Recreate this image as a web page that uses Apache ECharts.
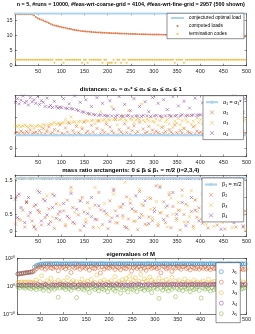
<!DOCTYPE html>
<html><head><meta charset="utf-8">
<script src="https://cdn.jsdelivr.net/npm/echarts@6/dist/echarts.min.js"></script>
<style>html,body{margin:0;padding:0;background:#fff}#c{width:255px;height:334px}</style>
</head><body><div id="c"></div><script>
// ---------- data ----------
const runIdx = Array.from({length:125},(_,i)=>1+4*i); // run index of each shown sample
const xLim = [0,500];
const xTickLabels = [50,100,150,200,250,300,350,400,450,500];
const optimalLoad = 17.2;
const computedLoads = [17.0,17.0,17.0,17.0,16.98,16.98,16.97,16.97,16.96,16.9,
16.6,16.1,15.7,15.4,15.2,14.9,14.6,14.4,14.1,13.8,13.5,13.3,13.2,13.0,12.9,
12.7,12.6,12.5,12.3,12.2,12.1,11.9,11.8,11.7,11.6,11.5,11.4,11.35,11.3,11.25,11.2,11.15,11.1,11.05,11.0,11.0,10.95,10.9,10.9,10.85,
10.8,10.8,10.75,10.75,10.7,10.7,10.65,10.65,10.6,10.6,10.55,10.52,10.5,10.48,10.46,10.45,10.43,10.42,10.4,10.38,10.37,10.35,10.34,10.33,10.31,
10.3,10.29,10.28,10.27,10.26,10.25,10.24,10.22,10.21,10.2,10.19,10.18,10.17,10.16,10.15,10.14,10.13,10.12,10.11,10.1,10.09,10.08,10.06,10.05,10.03,
10.02,10.0,9.99,9.98,9.97,9.96,9.95,9.94,9.93,9.92,9.91,9.9,9.89,9.88,9.87,9.86,9.85,9.84,9.82,9.8,9.78,9.75,9.72,9.68,9.6];
const terminationCodes = [2,2,2,2,2,2,2,2,2,2,2,2,2,2,2,2,2,2,2,2,2,1,2,2,2,
2,1,2,2,2,2,2,2,2,2,2,1,2,2,1,2,2,2,2,2,2,2,1,2,2,
1,1,1,2,1,2,2,1,2,2,1,2,2,2,2,2,2,2,2,2,2,2,2,2,2,
2,2,2,2,2,2,2,2,2,2,2,1,2,2,2,2,1,2,2,2,2,2,2,2,2,
2,2,2,2,2,2,2,2,2,2,2,2,2,2,2,2,2,2,2,2,2,2,2,2,2];

const alpha1Star = 0.25;
const alpha2 = [0.29,0.31,0.28,0.33,0.3,0.27,0.32,0.29,0.35,0.28,0.3,0.31,0.27,0.34,0.29,0.38,0.27,0.32,0.41,0.28,0.3,0.36,0.26,0.33,0.45,
0.29,0.27,0.39,0.31,0.48,0.26,0.34,0.28,0.42,0.3,0.27,0.37,0.5,0.29,0.33,0.27,0.44,0.31,0.26,0.38,0.52,0.28,0.35,0.3,0.46,
0.27,0.41,0.33,0.29,0.55,0.26,0.36,0.31,0.28,0.47,0.3,0.39,0.27,0.34,0.43,0.28,0.32,0.5,0.26,0.37,0.29,0.31,0.42,0.27,0.35,
0.28,0.33,0.3,0.27,0.4,0.29,0.32,0.26,0.36,0.31,0.28,0.45,0.3,0.27,0.34,0.29,0.38,0.26,0.32,0.3,0.28,0.41,0.27,0.33,0.29,
0.31,0.27,0.36,0.29,0.55,0.26,0.33,0.3,0.28,0.43,0.27,0.32,0.6,0.29,0.35,0.26,0.31,0.48,0.28,0.3,0.27,0.38,0.29,0.33,0.28];
const alpha3 = [0.43,0.42,0.44,0.41,0.43,0.45,0.42,0.4,0.44,0.43,0.38,0.42,0.44,0.43,0.41,0.46,0.44,0.35,0.45,0.47,0.46,0.5,0.46,0.48,0.47,
0.48,0.49,0.55,0.49,0.5,0.6,0.5,0.51,0.45,0.51,0.52,0.4,0.52,0.53,0.52,0.65,0.53,0.54,0.47,0.53,0.54,0.7,0.54,0.55,0.5,
0.55,0.54,0.8,0.55,0.56,0.45,0.55,0.56,0.62,0.55,0.53,0.72,0.56,0.55,0.48,0.54,0.57,0.55,0.85,0.54,0.5,0.56,0.53,0.6,0.52,
0.5,0.56,0.44,0.53,0.58,0.42,0.51,0.55,0.47,0.6,0.4,0.52,0.48,0.57,0.45,0.53,0.38,0.55,0.5,0.62,0.46,0.52,0.43,0.58,0.49,
0.55,0.47,0.6,0.5,0.44,0.57,0.52,0.65,0.48,0.55,0.42,0.58,0.5,0.53,0.46,0.6,0.51,0.56,0.7,0.49,0.54,0.47,0.58,0.52,0.55];
const alpha4 = [0.88,0.95,0.85,0.92,1.0,0.87,0.9,0.83,0.97,0.89,0.93,0.86,0.99,0.84,0.91,0.88,0.8,0.96,0.79,0.82,0.78,0.9,0.8,0.77,0.79,
0.78,0.95,0.77,0.76,0.85,0.76,0.75,1.0,0.74,0.72,0.88,0.7,0.69,0.93,0.67,0.66,0.8,0.65,0.64,0.97,0.63,0.64,0.86,0.63,0.62,
0.62,0.91,0.62,0.75,0.61,0.63,0.99,0.62,0.61,0.84,0.62,0.63,0.72,0.61,0.95,0.62,0.62,0.8,0.61,0.63,0.89,0.62,0.7,0.61,0.97,
0.62,0.63,0.86,0.62,0.61,0.93,0.62,0.74,0.63,0.62,0.99,0.62,0.63,0.81,0.62,0.64,0.9,0.62,0.63,0.77,0.63,0.64,0.96,0.63,0.64,
0.64,0.87,0.65,0.64,0.73,0.66,0.98,0.65,0.66,0.83,0.67,0.66,0.92,0.67,0.68,0.76,0.67,0.68,1.0,0.68,0.69,0.85,0.68,0.69,0.95];

const beta1 = 1.5708;
const beta2 = [0.21,1.05,0.35,1.571,0.62,0.12,0.88,0.45,1.571,0.3,0.74,0.05,1.2,0.55,0.18,0.95,0.4,1.571,0.66,0.28,1.1,0.08,0.81,0.5,0.33,
1.571,0.6,0.15,0.92,0.38,1.3,0.7,0.22,1.571,0.48,0.02,1.0,0.57,0.26,0.85,1.571,0.43,0.11,0.77,0.34,1.15,0.63,0.19,1.571,0.52,
0.07,0.9,0.39,1.25,0.6,0.24,1.571,0.71,0.46,0.13,1.02,0.36,0.83,1.571,0.29,0.58,0.04,1.18,0.5,0.76,0.2,1.571,0.42,0.97,0.31,
0.67,1.35,0.16,0.54,1.571,0.87,0.25,0.45,1.08,0.1,0.73,1.571,0.37,0.62,0.03,1.22,0.49,0.8,0.27,1.571,0.58,0.14,0.93,0.41,0.69,
1.571,0.23,0.86,0.52,0.09,1.12,0.35,0.64,1.571,0.18,0.78,0.44,1.4,0.06,0.57,1.571,0.3,0.99,0.47,0.12,0.72,1.571,0.38,0.15,0.6];
const beta3 = [1.571,1.571,1.571,0.32,1.571,1.571,0.85,1.571,1.571,1.571,0.15,1.571,1.571,0.6,1.571,1.571,1.571,1.05,1.571,1.571,0.42,1.571,1.571,1.571,0.78,
1.571,1.571,0.2,1.571,1.571,1.2,1.571,0.55,1.571,1.571,0.9,1.571,1.571,0.35,1.571,0.68,1.571,1.571,1.3,1.571,0.1,1.571,1.571,0.82,1.571,
0.47,1.571,1.571,1.1,0.25,1.571,0.72,1.571,0.38,1.45,1.571,0.05,0.95,1.571,0.6,0.3,1.571,1.25,0.8,0.45,1.571,0.18,1.0,0.65,0.4,
1.571,0.88,0.22,1.35,0.55,1.571,0.7,0.12,1.15,0.98,0.5,1.571,0.32,0.85,0.62,1.05,0.27,1.571,0.75,0.43,1.2,0.08,0.92,0.58,1.571,
0.36,1.1,0.68,0.2,1.571,0.52,0.95,0.14,1.3,0.4,0.8,1.571,0.25,0.62,1.05,0.46,1.571,0.1,0.88,0.33,1.2,0.7,1.571,0.5,0.02];
const beta4 = [0.95,0.4,1.1,0.7,1.571,0.25,0.85,1.0,0.55,1.571,0.12,0.78,0.62,1.15,0.3,1.571,0.9,0.48,0.2,1.571,0.7,1.05,0.38,1.571,0.58,
1.571,0.82,1.571,0.44,1.571,1.12,0.26,1.571,0.65,1.571,0.9,1.571,0.15,1.571,0.52,1.571,1.0,1.571,0.35,1.571,0.75,1.571,1.571,0.6,1.571,
1.571,0.28,1.571,1.2,1.571,0.45,1.571,1.571,0.8,1.571,0.1,1.571,1.571,0.66,1.571,1.05,1.571,0.4,1.571,1.571,0.9,1.571,0.22,1.571,1.571,
0.58,1.571,1.571,1.3,1.571,0.34,1.571,0.75,1.571,1.571,1.15,1.571,0.5,1.571,1.571,0.85,1.571,0.16,1.571,1.571,1.0,1.571,0.62,1.571,0.3,
1.571,1.571,0.9,1.571,0.44,1.571,1.571,1.2,1.571,0.7,1.571,0.05,1.571,1.571,0.55,1.571,0.98,1.571,0.25,1.571,1.571,0.8,1.571,0.12,1.571];

// eigenvalues, stored as base-10 exponents
const lambda1Exp = [8.7,8.9,9.1,9.3,9.5,9.7,9.9,10.1,10.3,13.6,14.6,15.2,15.6,15.8,15.9,
16.0,16.0,16.1,16.0,15.9,16.0,16.1,16.0,16.0,15.9,
16.0,16.1,16.0,15.9,16.0,16.0,16.1,16.0,15.9,16.0,
16.1,16.0,16.0,15.9,16.0,16.1,16.0,16.0,15.9,16.0,
16.0,16.1,16.0,15.9,16.0,16.0,16.1,16.0,15.9,16.0,
16.1,16.0,16.0,15.9,16.0,16.1,16.0,16.0,15.9,16.0,
16.0,16.1,16.0,15.9,16.0,16.0,16.1,16.0,15.9,16.0,
16.1,16.0,16.0,15.9,16.0,16.1,16.0,16.0,15.9,16.0,
16.0,16.1,16.0,15.9,16.0,16.0,16.1,16.0,15.9,16.0,
16.1,16.0,16.0,15.9,16.0,16.1,16.0,16.0,15.9,16.0,
16.0,16.1,16.0,15.9,16.0,16.0,16.1,16.0,15.9,16.0,
16.1,16.0,16.0,15.9,16.0,16.1,16.0,16.0,15.9,16.0];
const lambda2Exp = [8.7,8.9,9.1,9.3,9.5,9.7,9.9,10.1,10.3,
11.2,12.5,13.8,14.2,13.0,14.6,12.2,13.5,14.9,13.1,12.7,14.0,13.6,11.0,14.3,13.2,
13.9,12.4,14.5,13.3,9.8,14.1,12.9,13.7,14.8,12.1,13.4,14.2,12.8,13.9,11.5,14.4,13.0,12.6,14.7,13.5,9.4,13.8,12.3,14.1,13.2,
12.9,14.5,13.6,12.0,14.0,13.3,11.8,14.6,13.1,12.5,14.3,13.7,10.8,13.4,14.1,12.7,13.9,12.2,14.4,13.0,11.4,13.6,14.2,12.8,13.5,
14.0,12.6,13.2,9.6,14.5,13.8,12.4,13.1,14.2,10.5,13.6,12.9,14.4,13.3,12.1,13.9,14.6,12.7,13.4,11.7,14.1,13.0,12.5,13.8,12.2,
13.5,12.8,14.0,12.3,13.2,11.9,13.7,12.6,13.0,12.2,12.9,13.4,11.8,12.5,13.1,12.0,12.7,12.3,11.6,12.9,12.4,12.1,12.6,11.9,12.3];
const lambda3Exp = [2.8,2.6,3.0,2.7,2.9,2.5,3.1,2.8,2.6,
2.2,4.5,1.6,3.2,7.5,2.0,1.2,3.8,2.5,5.6,1.8,2.9,0.9,4.2,2.4,1.5,
3.5,2.1,6.2,1.4,2.8,4.0,1.9,3.1,0.8,2.6,5.0,1.7,2.3,3.6,1.1,4.8,2.0,2.7,8.0,1.6,3.3,2.2,4.4,1.3,2.9,
2.4,3.9,1.5,6.8,2.1,3.2,1.8,4.6,2.6,5.5,3.0,7.2,2.3,4.1,6.0,1.9,3.5,8.5,2.8,5.2,3.7,2.0,6.5,4.3,2.5,
3.1,1.6,5.8,2.4,3.6,1.2,4.7,2.0,2.9,6.3,1.7,3.4,2.2,4.0,1.4,2.7,5.1,1.9,3.3,2.5,1.1,4.4,2.1,3.0,1.6,
2.6,3.8,1.5,2.3,4.9,1.8,2.8,3.5,1.3,2.4,5.3,2.0,3.1,1.7,2.5,4.1,1.9,2.7,3.3,1.4,2.2,3.9,1.6,2.9,2.1];
const lambda4Exp = [0.6,0.8,0.5,0.9,0.4,0.7,1.0,0.5,0.8,0.9,0.3,1.1,0.6,0.2,0.8,1.2,0.5,-0.3,0.9,0.7,1.0,0.4,0.8,1.3,0.6,
0.9,0.5,1.1,0.7,0.3,1.0,0.8,-0.5,0.6,1.2,0.9,0.4,0.7,1.1,0.5,0.8,1.4,0.6,0.2,1.0,0.7,0.9,0.5,1.2,0.8,
0.6,1.0,0.8,0.4,1.3,0.7,0.9,0.5,1.1,0.8,0.3,1.0,0.7,1.2,0.6,0.9,1.5,0.8,0.5,1.0,0.7,1.1,0.9,0.6,1.2,
1.0,0.8,1.3,0.9,1.1,0.7,1.2,1.0,0.9,1.4,0.8,1.1,1.0,0.6,1.3,0.9,1.2,1.0,0.8,1.1,1.4,0.9,1.0,1.2,0.8,
1.1,0.9,1.3,1.0,0.8,1.2,1.0,1.4,0.9,1.1,1.0,1.3,0.8,1.2,1.0,0.9,1.1,1.3,1.0,0.9,1.2,1.0,1.1,0.8,1.2];
const lambda5Exp = [-0.5,-1.2,0.2,-0.8,-1.5,-0.3,-1.0,-2.0,-0.6,-1.3,-2.5,-0.4,-1.8,-0.9,-2.9,-1.1,-0.2,-3.4,-1.6,-0.7,-2.2,-1.0,-8.0,-1.4,-0.6,
-1.1,-2.4,-0.5,-1.7,-3.0,-0.8,-1.3,-8.2,-2.1,-0.4,-1.6,-2.7,-0.9,-1.9,-4.5,-1.2,-0.6,-2.3,-1.5,-3.3,-0.7,-1.8,-2.6,-1.0,-4.0,
-1.4,-0.5,-2.2,-3.6,-1.0,-1.7,-5.0,-0.8,-2.5,-1.3,-4.2,-0.6,-1.9,-2.8,-1.1,-3.9,-0.4,-2.0,-1.5,-3.1,-0.9,-2.4,-1.6,-4.6,-1.2,
-0.7,-2.1,-8.8,-1.4,-2.9,-0.5,-1.8,-3.5,-1.0,-2.3,-0.8,-7.6,-1.6,-2.6,-1.1,-3.2,-0.6,-2.0,-1.3,-4.1,-0.9,-2.5,-1.7,-0.4,-3.0,
-8.5,-1.2,-2.2,-0.7,-1.9,-3.4,-1.0,-2.7,-1.5,-0.6,-2.1,-4.0,-1.3,-0.8,-2.4,-1.7,-3.1,-0.9,-1.4,-2.6,-1.1,-0.5,-2.0,-1.6,-0.9];

// ---------- chart ----------
const FONT = '"Liberation Sans", Arial, sans-serif';
const AX = '#262626';
const C = {blue:'#0072BD', red:'#D95319', yel:'#EDB120', pur:'#7E2F8E', grn:'#77AC30', light:'#a9d3ee'};
const XSYM = 'path://M0,0L10,10M10,0L0,10';

const grids = [
  {left:15, width:231.5, top:13.3, height:52.4},
  {left:15, width:231.5, top:95.5, height:61},
  {left:15, width:231.5, top:175, height:61.4},
  {left:15, width:231.5, top:258.3, height:55.7}
];
const xAxes = [], yAxes = [];
const lineS = {color:AX, width:0.6};
const tickS = {show:true, inside:true, length:2, lineStyle:{color:AX, width:0.5}};
function near(v, step){ return Math.abs(v/step - Math.round(v/step)) < 1e-6; }
function addAxes(g, ycfg){
  xAxes.push({type:'value', gridIndex:g, min:xLim[0], max:xLim[1], interval:50, position:'bottom',
    axisLine:{show:true, onZero:false, lineStyle:lineS}, axisTick:tickS, splitLine:{show:false},
    axisLabel:{fontSize:5.5, color:AX, margin:2.5, fontFamily:FONT,
      formatter:v=>xTickLabels.includes(v)?String(v):''}});
  xAxes.push({type:'value', gridIndex:g, min:xLim[0], max:xLim[1], interval:50, position:'top',
    axisLine:{show:true, onZero:false, lineStyle:lineS}, axisTick:tickS, splitLine:{show:false},
    axisLabel:{show:false}});
  const base = Object.assign({gridIndex:g, splitLine:{show:false}, axisTick:tickS,
    axisLine:{show:true, onZero:false, lineStyle:lineS}}, ycfg.axis);
  yAxes.push(Object.assign({}, base, {position:'left',
    axisLabel:{fontSize:5.5, color:AX, margin:2.5, fontFamily:FONT, showMinLabel:ycfg.showMin, showMaxLabel:false, formatter:ycfg.fmt}}));
  yAxes.push(Object.assign({}, base, {position:'right', axisLabel:{show:false}}));
}
addAxes(0,{axis:{type:'value', min:0, max:17.3, splitNumber:4}, showMin:true, fmt:v=>near(v,5)?String(v):''});
addAxes(1,{axis:{type:'value', min:-0.155, max:1.01, splitNumber:3}, showMin:false, fmt:v=>near(v,0.5)?String(v):''});
addAxes(2,{axis:{type:'value', min:-0.16, max:1.67, splitNumber:4}, showMin:false, fmt:v=>near(v,0.5)?String(v):''});
const supMap = {'0':'⁰','1':'¹','2':'²','-':'⁻'};
addAxes(3,{axis:{type:'log', logBase:10, min:1e-20, max:1e20, splitNumber:2}, showMin:true,
  fmt:v=>{const e=Math.round(Math.log10(v)); return '10'+String(e).split('').map(c=>supMap[c]||c).join('');}});
yAxes[6].axisLabel.showMaxLabel = true;

function pts(arr){ return runIdx.map((x,i)=>[x, arr[i]]); }
function ptsExp(arr){ return runIdx.map((x,i)=>[x, Math.pow(10, arr[i])]); }
function hline(v){ return xLim.map(x=>[x, v]); }
function xser(name, g, data, color){
  return {name, type:'scatter', xAxisIndex:2*g, yAxisIndex:2*g, data, symbol:XSYM, symbolSize:3,
    itemStyle:{color:'rgba(0,0,0,0)', borderColor:color, borderWidth:0.6}};
}
function oser(name, data, color){
  return {name, type:'scatter', xAxisIndex:6, yAxisIndex:6, data, symbol:'circle', symbolSize:4,
    itemStyle:{color:'rgba(0,0,0,0)', borderColor:color, borderWidth:0.6}};
}
function lser(name, g, data){
  return {name, type:'line', xAxisIndex:2*g, yAxisIndex:2*g, data, symbol:'none',
    lineStyle:{color:C.light, width:2}, itemStyle:{color:C.light}};
}
const series = [
  lser('conjectured optimal load', 0, hline(optimalLoad)),
  {name:'computed loads', type:'scatter', xAxisIndex:0, yAxisIndex:0, data:pts(computedLoads), symbol:'circle', symbolSize:1.9, itemStyle:{color:C.red}},
  {name:'termination codes', type:'scatter', xAxisIndex:0, yAxisIndex:0, data:pts(terminationCodes), symbol:'circle', symbolSize:2, itemStyle:{color:C.yel}},
  lser('α₁ = α₁*', 1, hline(alpha1Star)),
  xser('α₂', 1, pts(alpha2), C.red),
  xser('α₃', 1, pts(alpha3), C.yel),
  xser('α₄', 1, pts(alpha4), C.pur),
  lser('β₁ = π/2', 2, hline(beta1)),
  xser('β₂', 2, pts(beta2), C.red),
  xser('β₃', 2, pts(beta3), C.yel),
  xser('β₄', 2, pts(beta4), C.pur),
  oser('λ₁', ptsExp(lambda1Exp), C.blue),
  oser('λ₂', ptsExp(lambda2Exp), C.red),
  oser('λ₃', ptsExp(lambda3Exp), C.yel),
  oser('λ₄', ptsExp(lambda4Exp), C.pur),
  oser('λ₅', ptsExp(lambda5Exp), C.grn)
];
function legend(left, top, names, pad, gap, iw, ih, fs, bw){
  return {left, top, orient:'vertical', data:names, padding:pad, itemGap:gap, itemWidth:iw, itemHeight:ih,
    backgroundColor:'#fff', borderColor:AX, borderWidth:0.5, borderRadius:0, selectedMode:false,
    itemStyle:{borderWidth:bw}, textStyle:{fontSize:fs, color:'#000', fontFamily:FONT}};
}
const legends = [
  legend(167, 13.3, ['conjectured optimal load','computed loads','termination codes'], [2.2,3,2.2,3], 3, 13, 2.2, 4.8, 0),
  legend(203, 95.7, ['α₁ = α₁*','α₂','α₃','α₄'], [3.5,2,3.5,2], 4.3, 12, 4, 5.5, 0.6),
  legend(202, 178, ['β₁ = π/2','β₂','β₃','β₄'], [3.5,2,3.5,2], 4.3, 12, 4, 5.5, 0.6),
  legend(216, 262.7, ['λ₁','λ₂','λ₃','λ₄','λ₅'], [6,3,6,3], 4.5, 12, 4, 5.5, 0.6)
];
function ttl(text, y, fs){
  return {type:'text', x:130.75, y, z:100, style:{text, fontSize:fs, fontWeight:'bold', fontFamily:FONT, fill:'#000',
    align:'center', verticalAlign:'middle', textAlign:'center', textVerticalAlign:'middle'}};
}
const chart = echarts.init(document.getElementById('c'), null, {renderer:'canvas'});
chart.setOption({
  animation:false, backgroundColor:'#fff',
  grid:grids, xAxis:xAxes, yAxis:yAxes, series, legend:legends,
  graphic:[
    ttl('n = 5, #runs = 10000, #feas-wrt-coarse-grid = 4104, #feas-wrt-fine-grid = 2957 (500 shown)', 5, 5.4),
    ttl('distances: α₁ = α₁* ≤ α₂ ≤ α₃ ≤ α₄ ≤ 1', 89.5, 6),
    ttl('mass ratio arctangents: 0 ≤ βᵢ ≤ β₁ = π/2 (i=2,3,4)', 170.5, 6),
    ttl('eigenvalues of M', 254.5, 6)
  ]
});
</script></body></html>
